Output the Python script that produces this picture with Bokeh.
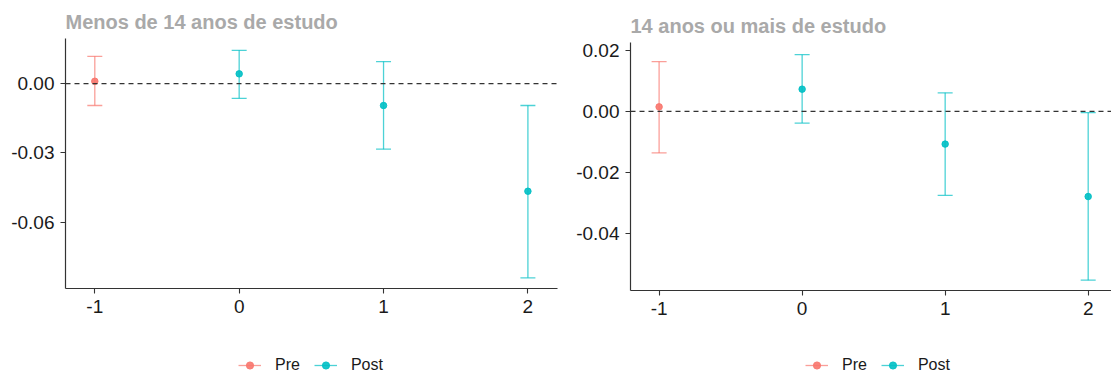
from bokeh.plotting import figure
from bokeh.models import (Range1d, Span, Legend, LegendItem, FixedTicker,
                          ColumnDataSource, CustomJSTickFormatter)
from bokeh.layouts import row, column
from bokeh.embed import file_html
from bokeh.resources import INLINE

# ---- data ----
periods = [-1, 0, 1, 2]
groups = ["Pre", "Post", "Post", "Post"]

left_title = "Menos de 14 anos de estudo"
left_est = [0.0010, 0.0042, -0.0095, -0.0466]
left_lo = [-0.0095, -0.0064, -0.0284, -0.0841]
left_hi = [0.0118, 0.0144, 0.0095, -0.0095]
left_yticks = [0.00, -0.03, -0.06]

right_title = "14 anos ou mais de estudo"
right_est = [0.0015, 0.0073, -0.0107, -0.0279]
right_lo = [-0.0136, -0.0038, -0.0275, -0.0553]
right_hi = [0.0163, 0.0186, 0.0061, -0.0004]
right_yticks = [0.02, 0.00, -0.02, -0.04]

colors = {"Pre": "#F8766D", "Post": "#00BFC4"}
FONT = "Liberation Sans"


def draw_group(p, g, est, lo, hi, with_caps=True):
    idx = [i for i, gg in enumerate(groups) if gg == g]
    src = ColumnDataSource(dict(
        x=[periods[i] for i in idx],
        y=[est[i] for i in idx],
        lo=[lo[i] for i in idx],
        hi=[hi[i] for i in idx],
    ))
    c = colors[g]
    seg = p.segment(x0="x", y0="lo", x1="x", y1="hi", source=src,
                    line_color=c, line_width=1.3, line_alpha=0.7)
    if with_caps:
        p.scatter(x="x", y="lo", source=src, marker="dash", size=15,
                  line_color=c, line_width=1.3, line_alpha=0.7)
        p.scatter(x="x", y="hi", source=src, marker="dash", size=15,
                  line_color=c, line_width=1.3, line_alpha=0.7)
    pt = p.scatter(x="x", y="y", source=src, marker="circle", size=6.5,
                   fill_color=c, line_color=c, fill_alpha=0.9, line_alpha=0.9)
    return seg, pt


def panel(title, est, lo, hi, yticks, width, height, xr, yr, bl, br, bt, bb):
    p = figure(width=width, height=height, output_backend="svg", toolbar_location=None,
               x_range=Range1d(*xr), y_range=Range1d(*yr),
               min_border_left=bl, min_border_right=br, min_border_top=bt, min_border_bottom=bb)
    p.title.text = title
    p.title.text_font = FONT
    p.title.text_font_style = "bold"
    p.title.text_font_size = "20px"
    p.title.text_color = "#A9A9A9"
    p.title.align = "left"
    p.title.offset = 0
    p.title.standoff = 11
    p.outline_line_color = None
    p.xgrid.visible = False
    p.ygrid.visible = False

    for ax in (p.xaxis[0], p.yaxis[0]):
        ax.axis_line_color = "#333333"
        ax.axis_line_width = 1.2
        ax.major_tick_line_color = "#333333"
        ax.major_tick_line_width = 1.1
        ax.major_tick_out = 5
        ax.major_tick_in = 0
        ax.minor_tick_line_color = None
        ax.major_label_text_font = FONT
        ax.major_label_text_font_size = "19px"
        ax.major_label_text_color = "#1a1a1a"
        ax.major_label_standoff = 6
    p.xaxis.ticker = FixedTicker(ticks=periods)
    p.yaxis.ticker = FixedTicker(ticks=yticks)
    p.yaxis.formatter = CustomJSTickFormatter(code="return tick.toFixed(2);")
    p.xaxis.formatter = CustomJSTickFormatter(code="return tick.toFixed(0);")

    p.add_layout(Span(location=0, dimension="width", line_color="#333333",
                      line_width=1.2, line_dash="5 4"))
    for g in ["Pre", "Post"]:
        draw_group(p, g, est, lo, hi)
    return p


def legend_fig(est, lo, hi, width, height, loc):
    # legend strip below a panel: the glyphs are drawn from the same data but
    # kept outside this strip's ranges, so only the legend shows
    q = figure(width=width, height=height, output_backend="svg", toolbar_location=None,
               x_range=Range1d(10, 11), y_range=Range1d(10, 11),
               min_border=0, min_border_left=0, min_border_right=0,
               min_border_top=0, min_border_bottom=0)
    q.axis.visible = False
    q.grid.visible = False
    q.outline_line_color = None
    items = []
    for g in ["Pre", "Post"]:
        seg, pt = draw_group(q, g, est, lo, hi, with_caps=False)
        items.append(LegendItem(label=g, renderers=[seg, pt]))
    leg = Legend(items=items, orientation="horizontal", location=loc,
                 label_text_font=FONT, label_text_font_size="16px",
                 label_text_color="#1a1a1a", glyph_width=23, glyph_height=18,
                 label_standoff=14, spacing=14, border_line_color=None,
                 background_fill_alpha=0, padding=3, margin=0)
    q.add_layout(leg, "center")
    return q


p1 = panel(left_title, left_est, left_lo, left_hi, left_yticks, 560, 336,
           (-1.203, 2.205), (-0.0887, 0.0195), 65, 3, 38, 48)
p2 = panel(right_title, right_est, right_lo, right_hi, right_yticks, 551, 336,
           (-1.2, 2.163), (-0.0587, 0.0226), 70, 0, 42, 46)
l1 = legend_fig(left_est, left_lo, left_hi, 560, 40, (173, 2))
l2 = legend_fig(right_est, right_lo, right_hi, 551, 40, (175, 2))

layout = row(column(p1, l1, spacing=0), column(p2, l2, spacing=0), spacing=0)
open("out.html", "w").write(file_html(layout, INLINE))
